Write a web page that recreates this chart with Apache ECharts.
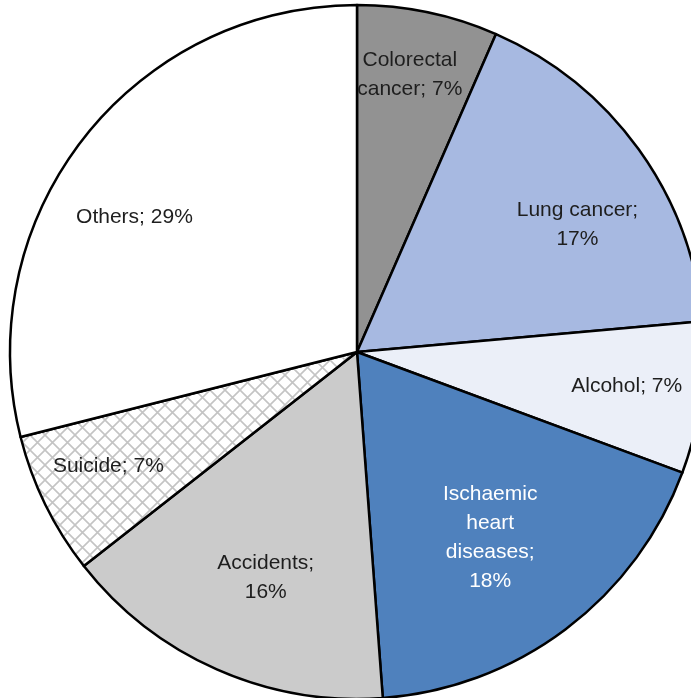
<!DOCTYPE html>
<html>
<head>
<meta charset="utf-8">
<script src="https://cdn.jsdelivr.net/npm/echarts@6/dist/echarts.min.js"></script>
<style>
html,body{margin:0;padding:0;background:#fff;}
#chart{width:691px;height:698px;}
</style>
</head>
<body>
<div id="chart"></div>
<script>
const categories = ["Colorectal cancer", "Lung cancer", "Alcohol", "Ischaemic heart diseases", "Accidents", "Suicide", "Others"];
const values = [6.56, 17.03, 7.06, 18.17, 15.61, 6.64, 28.94];
const labelTexts = ["Colorectal\ncancer; 7%", "Lung cancer;\n17%", "Alcohol; 7%", "Ischaemic\nheart\ndiseases;\n18%", "Accidents;\n16%", "Suicide; 7%", "Others; 29%"];
const colors = ["#929292", "#a7b9e1", "#ebeff8", "#4f81bd", "#cbcbcb", "hatch", "#ffffff"];
const labelColors = ["#1e1e1e", "#1e1e1e", "#1e1e1e", "#ffffff", "#1e1e1e", "#1e1e1e", "#1e1e1e"];
// label nudges (styling only)
const labelOffsets = [[0, -25], [11, 23], [14, 0], [-22, -20], [13, -10], [-17, 1], [-19, 24]];

function hatchPattern() {
  const c = document.createElement('canvas');
  c.width = 15; c.height = 15;
  const ctx = c.getContext('2d');
  ctx.fillStyle = '#ffffff';
  ctx.fillRect(0, 0, 15, 15);
  ctx.strokeStyle = '#c4c4c4';
  ctx.lineWidth = 1.6;
  ctx.beginPath();
  ctx.moveTo(-1, -1); ctx.lineTo(16, 16);
  ctx.moveTo(16, -1); ctx.lineTo(-1, 16);
  ctx.stroke();
  return { image: c, repeat: 'repeat' };
}

const chart = echarts.init(document.getElementById('chart'));
const cx = 357, cy = 352, R = 347;

const mainData = categories.map((n, i) => ({
  name: n,
  value: values[i],
  itemStyle: { color: colors[i] === 'hatch' ? hatchPattern() : colors[i] }
}));
const labelData = categories.map((n, i) => ({
  name: n,
  value: values[i],
  label: { color: labelColors[i], formatter: labelTexts[i], offset: labelOffsets[i] }
}));

chart.setOption({
  backgroundColor: '#ffffff',
  animation: false,
  series: [
    {
      type: 'pie',
      center: [cx, cy],
      radius: [0, R],
      startAngle: 90,
      clockwise: true,
      silent: true,
      label: { show: false },
      labelLine: { show: false },
      itemStyle: { borderColor: '#000000', borderWidth: 2.5 },
      data: mainData
    },
    {
      type: 'pie',
      center: [cx, cy],
      radius: [163, R],
      startAngle: 90,
      clockwise: true,
      silent: true,
      itemStyle: { color: 'rgba(0,0,0,0)', borderWidth: 0 },
      label: {
        show: true,
        position: 'inside',
        fontFamily: 'Liberation Sans, Arial, sans-serif',
        fontSize: 21,
        lineHeight: 29,
        align: 'center'
      },
      labelLine: { show: false },
      data: labelData
    }
  ]
});
</script>
</body>
</html>
